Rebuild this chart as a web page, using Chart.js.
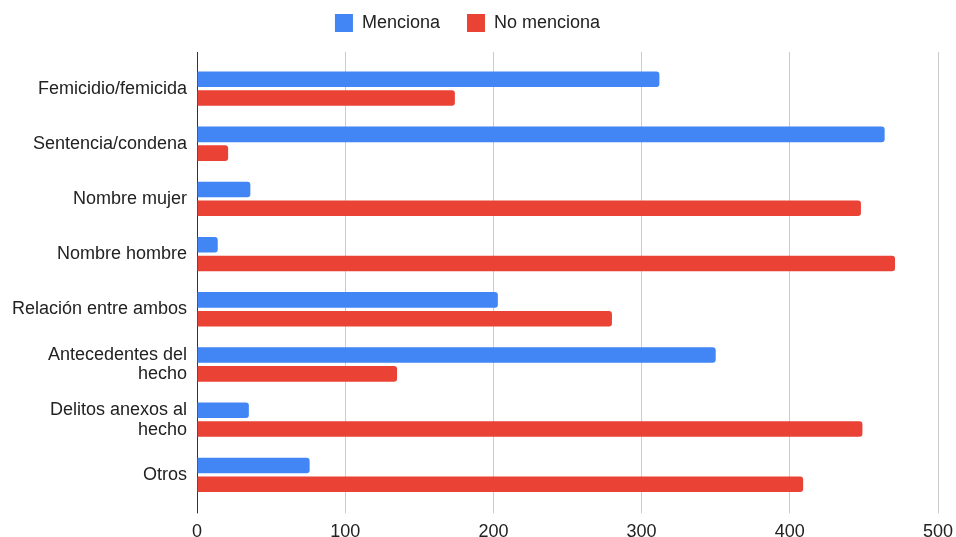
<!DOCTYPE html>
<html>
<head>
<meta charset="utf-8">
<script src="https://cdn.jsdelivr.net/npm/chart.js@4.4.1/dist/chart.umd.min.js"></script>
<style>
  html, body { margin: 0; padding: 0; background: #ffffff; overflow: hidden; }
  #wrap { position: relative; width: 956px; height: 537px; }
</style>
</head>
<body>
<div id="wrap"><canvas id="c"></canvas></div>
<script>
const categories = [
  "Femicidio/femicida",
  "Sentencia/condena",
  "Nombre mujer",
  "Nombre hombre",
  "Relación entre ambos",
  ["Antecedentes del", "hecho"],
  ["Delitos anexos al", "hecho"],
  "Otros"
];
const seriesNames = ["Menciona", "No menciona"];
const menciona   = [312, 464, 36, 14, 203, 350, 35, 76];
const noMenciona = [174, 21, 448, 471, 280, 135, 449, 409];
const xTicks = [0, 100, 200, 300, 400, 500];

const FONT = "'Liberation Sans', Arial, Helvetica, sans-serif";

const legendTweak = {
  id: 'legendTweak',
  beforeInit(chart) {
    const origFit = chart.legend.fit;
    chart.legend.fit = function () {
      origFit.bind(chart.legend)();
      this.height += 19;
    };
  },
  afterLayout(chart) {
    const lg = chart.legend;
    lg.left -= 1.5;
    lg.right -= 1.5;
  }
};

const gridExtend = {
  id: 'gridExtend',
  beforeDatasetsDraw(chart) {
    const { ctx, chartArea, scales } = chart;
    const x = scales.x;
    ctx.save();
    x.ticks.forEach((t) => {
      const px = Math.round(x.getPixelForValue(t.value) - 0.5) + 0.5;
      ctx.beginPath();
      ctx.lineWidth = 1;
      ctx.strokeStyle = t.value === 0 ? '#333333' : '#cccccc';
      ctx.moveTo(px, chartArea.top - 9);
      ctx.lineTo(px, chartArea.top + 1);
      ctx.stroke();
    });
    ctx.restore();
  }
};

new Chart(document.getElementById('c'), {
  type: 'bar',
  data: {
    labels: categories,
    datasets: [
      {
        label: seriesNames[0],
        data: menciona,
        backgroundColor: '#4285F4',
        borderRadius: 3,
        borderSkipped: 'start',
        categoryPercentage: 0.68,
        barPercentage: 0.83
      },
      {
        label: seriesNames[1],
        data: noMenciona,
        backgroundColor: '#EA4335',
        borderRadius: 3,
        borderSkipped: 'start',
        categoryPercentage: 0.68,
        barPercentage: 0.83
      }
    ]
  },
  options: {
    indexAxis: 'y',
    responsive: true,
    maintainAspectRatio: false,
    animation: false,
    layout: { padding: { top: -13, right: 18, bottom: -14, left: 0 } },
    plugins: {
      legend: {
        position: 'top',
        align: 'center',
        labels: {
          boxWidth: 18,
          boxHeight: 18,
          padding: 27,
          color: '#222222',
          font: { family: FONT, size: 18 }
        }
      },
      tooltip: { enabled: false }
    },
    scales: {
      x: {
        type: 'linear',
        min: 0,
        max: 500,
        afterBuildTicks(scale) {
          scale.ticks = xTicks.map(v => ({ value: v }));
        },
        afterFit(scale) {
          scale.paddingRight = 0;
        },
        grid: {
          color: (c) => c.tick && c.tick.value === 0 ? '#333333' : '#cccccc',
          tickColor: (c) => c.tick && c.tick.value === 0 ? '#333333' : '#cccccc',
          tickLength: 11,
          drawTicks: true
        },
        border: { display: false },
        ticks: {
          padding: 8,
          color: '#222222',
          font: { family: FONT, size: 18 }
        }
      },
      y: {
        type: 'category',
        afterFit(scale) { scale.width = 197; },
        grid: { display: false, drawTicks: false },
        border: { display: false },
        ticks: {
          padding: 10,
          color: '#222222',
          font: { family: FONT, size: 18, lineHeight: 1.1 }
        }
      }
    }
  },
  plugins: [legendTweak, gridExtend]
});
</script>
</body>
</html>
